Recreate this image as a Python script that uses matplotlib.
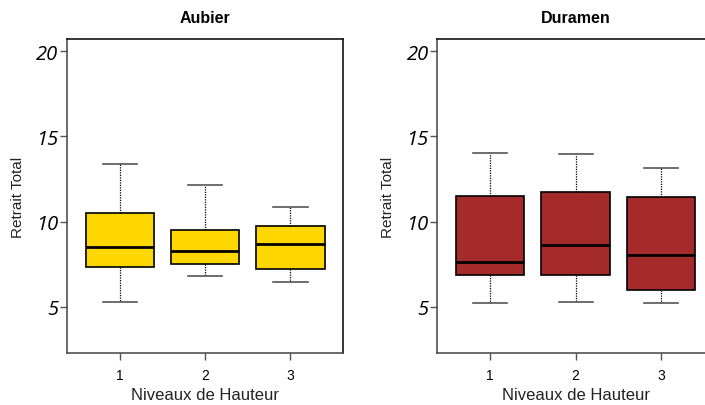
import matplotlib
matplotlib.use("Agg")
import matplotlib.pyplot as plt

# x levels and the five-number summaries
niveaux = [1, 2, 3]

aubier_low = [5.27, 6.81, 6.44]
aubier_q1 = [7.34, 7.53, 7.22]
aubier_med = [8.53, 8.29, 8.70]
aubier_q3 = [10.51, 9.50, 9.77]
aubier_high = [13.36, 12.13, 10.84]

duramen_low = [5.21, 5.27, 5.23]
duramen_q1 = [6.89, 6.89, 5.99]
duramen_med = [7.63, 8.62, 8.02]
duramen_q3 = [11.53, 11.76, 11.43]
duramen_high = [14.02, 13.96, 13.14]

y_ticks = [5, 10, 15, 20]


def make_stats(low, q1, med, q3, high):
    stats = []
    for i in range(len(low)):
        stats.append({
            "whislo": low[i], "q1": q1[i], "med": med[i],
            "q3": q3[i], "whishi": high[i], "fliers": [],
        })
    return stats


def draw_panel(ax, stats, color, title):
    ax.bxp(
        stats, positions=niveaux, widths=0.8, showfliers=False,
        patch_artist=True,
        boxprops=dict(facecolor=color, edgecolor="black", linewidth=1.2),
        medianprops=dict(color="black", linewidth=2),
        whiskerprops=dict(color="black", linestyle=(0, (1, 1)), linewidth=0.9),
        capprops=dict(color="#555555", linewidth=1.2),
        capwidths=0.4,
    )
    ax.set_xlim(0.38, 3.62)
    ax.set_ylim(2.3, 20.7)
    ax.set_xticks(niveaux)
    ax.set_xticklabels([str(n) for n in niveaux], fontsize=10,
                       family="Liberation Sans")
    ax.set_yticks(y_ticks)
    ax.set_yticklabels([str(t) for t in y_ticks], fontsize=14.5,
                       family="Open Sans", style="italic")
    ax.tick_params(axis="both", direction="out", length=5, color="#555555",
                   width=1)
    ax.tick_params(axis="y", pad=1)
    ax.tick_params(axis="x", pad=6)
    for sp in ax.spines.values():
        sp.set_linewidth(1.1)
    ax.spines["left"].set_color("#444444")
    ax.spines["bottom"].set_color("#444444")
    ax.set_xlabel("Niveaux de Hauteur", fontsize=12, family="Liberation Sans",
                  color="#222222")
    ax.set_ylabel("Retrait Total", fontsize=11, family="Liberation Sans",
                  color="#222222")
    ax.yaxis.set_label_coords(-0.152, 0.5)
    ax.xaxis.set_label_coords(0.5, -0.108)
    ax.set_title(title, fontsize=11.5, fontweight="bold",
                 family="Liberation Sans", pad=12.5)


fig = plt.figure(figsize=(7.05, 4.06), dpi=100)
ax1 = fig.add_axes([0.095, 0.128, 0.392, 0.773])
ax2 = fig.add_axes([0.620, 0.128, 0.393, 0.773])

draw_panel(ax1, make_stats(aubier_low, aubier_q1, aubier_med, aubier_q3,
                           aubier_high), "#FFD700", "Aubier")
draw_panel(ax2, make_stats(duramen_low, duramen_q1, duramen_med, duramen_q3,
                           duramen_high), "#A52A2A", "Duramen")

fig.savefig("out.png", dpi=100)
